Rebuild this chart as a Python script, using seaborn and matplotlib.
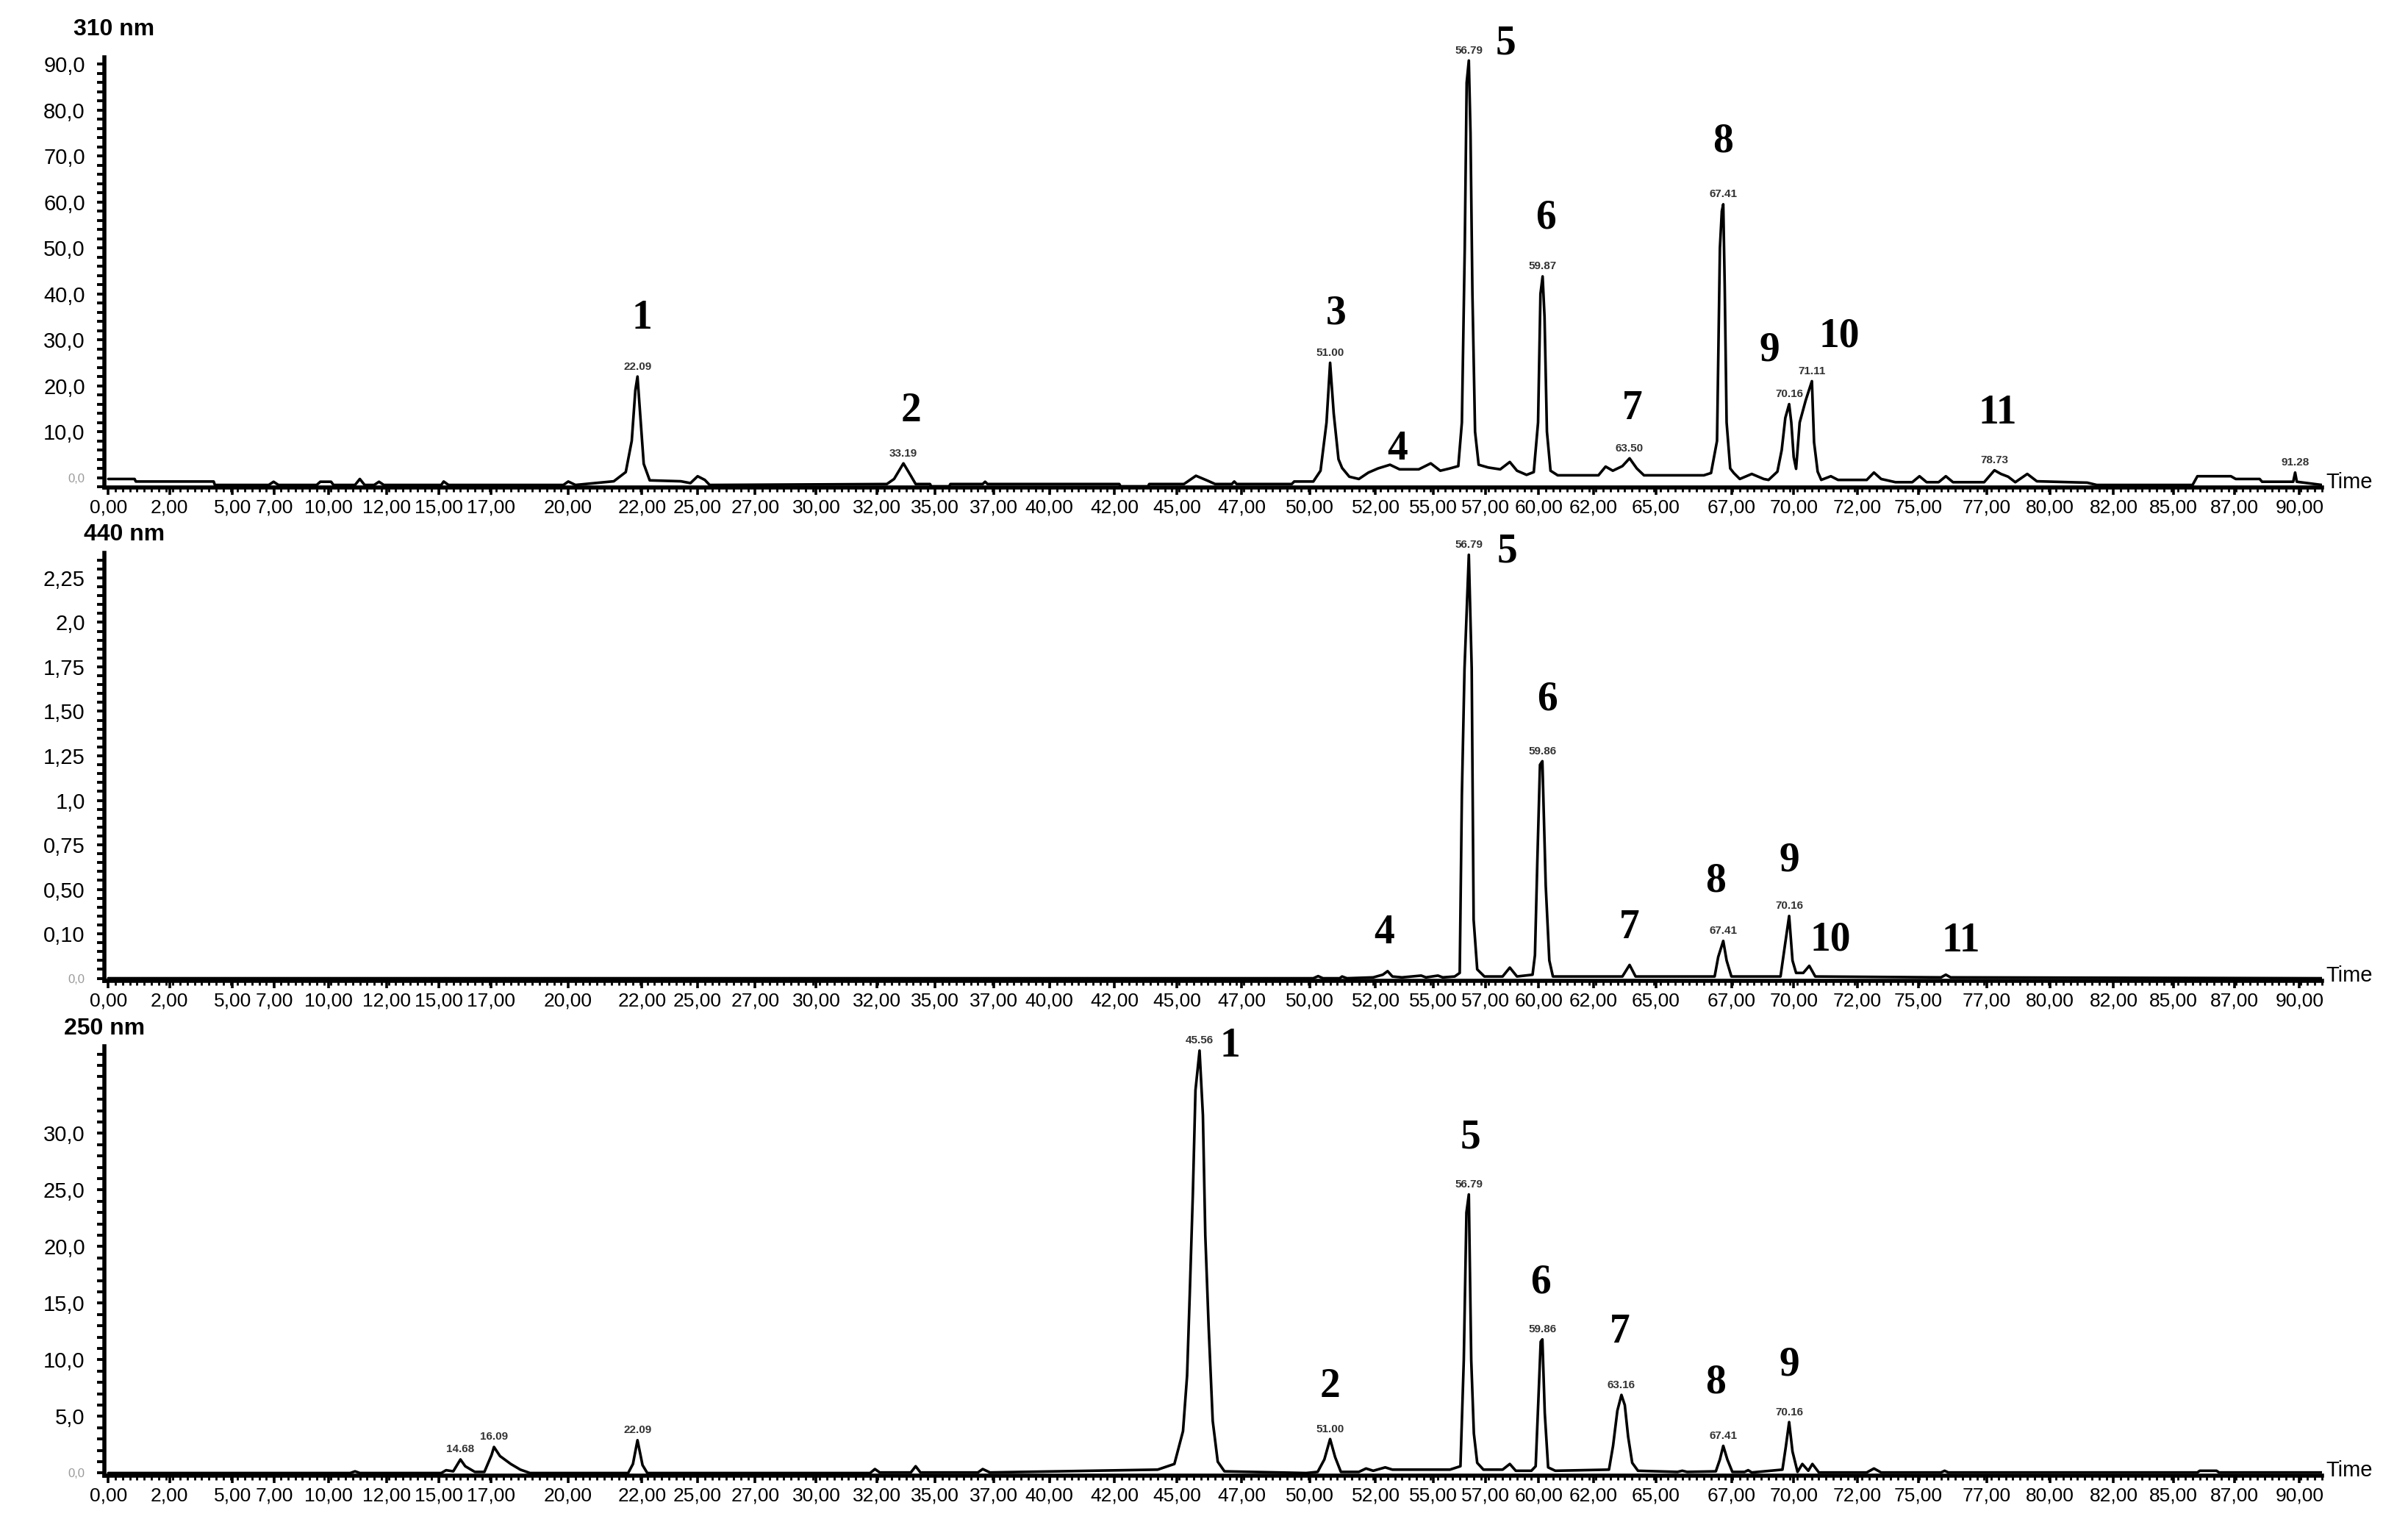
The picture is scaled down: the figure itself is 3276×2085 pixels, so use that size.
import numpy as np
import pandas as pd
import seaborn as sns
import matplotlib.pyplot as plt
from matplotlib.ticker import FixedLocator, MultipleLocator, AutoMinorLocator

sns.set_theme(style='ticks')
plt.rcParams['font.family'] = ['Liberation Sans', 'DejaVu Sans']

# --- time axis labels (minutes, as drawn in the figure) ---
time_ticks = [0.0, 2.56, 5.18, 6.94, 9.2, 11.63, 13.81, 15.99, 19.2, 22.28, 24.6, 27.0,
              29.55, 32.08, 34.5, 36.97, 39.28, 42.0, 44.6, 47.3, 50.15, 52.9, 55.3,
              57.5, 59.7, 62.0, 64.6, 67.75, 70.35, 73.0, 75.55, 78.4, 81.05, 83.7,
              86.2, 88.75, 91.46]
time_labels = ['0,00', '2,00', '5,00', '7,00', '10,00', '12,00', '15,00', '17,00', '20,00',
               '22,00', '25,00', '27,00', '30,00', '32,00', '35,00', '37,00', '40,00',
               '42,00', '45,00', '47,00', '50,00', '52,00', '55,00', '57,00', '60,00',
               '62,00', '65,00', '67,00', '70,00', '72,00', '75,00', '77,00', '80,00',
               '82,00', '85,00', '87,00', '90,00']

# --- 310 nm trace ---
t_310 = [0.0, 1.1, 1.15, 4.4, 4.45, 6.7, 6.9, 7.1, 8.7, 8.85, 9.3, 9.4, 10.3, 10.5, 10.7,
         11.1, 11.3, 11.5, 13.9, 14.0, 14.2, 19.0, 19.2, 19.5, 21.1, 21.6, 21.85, 22.0,
         22.09, 22.2, 22.35, 22.6, 23.9, 24.3, 24.6, 24.9, 25.1, 32.5, 32.8, 33.19, 33.5,
         33.7, 34.3, 34.35, 35.1, 35.15, 36.5, 36.6, 36.7, 42.2, 42.25, 43.4, 43.45, 44.9,
         45.4, 45.9, 46.2, 46.9, 47.0, 47.1, 49.4, 49.5, 50.3, 50.6, 50.85, 51.0, 51.15,
         51.35, 51.5, 51.8, 52.2, 52.6, 53.0, 53.5, 53.9, 54.7, 55.2, 55.6, 56.0, 56.35,
         56.5, 56.62, 56.7, 56.79, 56.86, 56.94, 57.05, 57.2, 57.6, 58.1, 58.5, 58.8, 59.2,
         59.5, 59.68, 59.78, 59.87, 59.95, 60.05, 60.2, 60.5, 62.2, 62.5, 62.8, 63.2, 63.5,
         63.8, 64.1, 66.6, 66.9, 67.15, 67.27, 67.35, 67.41, 67.47, 67.55, 67.7, 67.85,
         68.1, 68.6, 69.1, 69.3, 69.67, 69.85, 70.0, 70.16, 70.25, 70.35, 70.45, 70.6,
         70.85, 71.11, 71.2, 71.35, 71.5, 71.9, 72.2, 73.4, 73.7, 74.0, 74.6, 75.3, 75.6,
         75.9, 76.4, 76.7, 77.0, 78.3, 78.73, 79.0, 79.3, 79.6, 80.1, 80.5, 82.6, 83.0,
         87.0, 87.2, 88.6, 88.8, 89.8, 89.9, 91.2, 91.28, 91.35, 92.4]
a_310 = [-0.3, -0.3, -0.85, -0.85, -1.6, -1.6, -0.9, -1.6, -1.6, -0.9, -0.9, -1.6, -1.6,
         -0.3, -1.6, -1.6, -0.9, -1.6, -1.6, -0.85, -1.6, -1.6, -0.85, -1.6, -0.8, 1.2,
         8.0, 19.0, 22.0, 14.0, 3.0, -0.6, -0.8, -1.2, 0.3, -0.5, -1.6, -1.4, -0.3, 3.1,
         0.4, -1.4, -1.4, -1.9, -1.9, -1.4, -1.4, -0.9, -1.4, -1.4, -1.9, -1.9, -1.4,
         -1.4, 0.4, -0.7, -1.4, -1.4, -0.85, -1.4, -1.4, -0.85, -0.85, 1.5, 12.0, 25.0,
         14.0, 4.0, 2.1, 0.2, -0.3, 1.1, 2.0, 2.8, 1.8, 1.8, 3.1, 1.5, 2.0, 2.5, 12.0,
         50.0, 86.0, 90.8, 75.0, 40.0, 10.0, 2.8, 2.2, 1.8, 3.4, 1.5, 0.6, 1.2, 12.0,
         40.0, 43.8, 35.0, 10.0, 1.5, 0.5, 0.5, 2.4, 1.5, 2.5, 4.2, 2.0, 0.5, 0.5, 1.0,
         8.0, 50.0, 58.0, 59.5, 42.0, 12.0, 2.0, 1.0, -0.3, 0.8, -0.3, -0.5, 1.3, 6.0,
         13.0, 16.0, 12.0, 4.5, 1.9, 12.0, 16.8, 21.0, 7.7, 1.3, -0.5, 0.3, -0.5, -0.5,
         1.1, -0.3, -1.0, -1.0, 0.3, -1.0, -1.0, 0.3, -1.0, -1.0, 1.6, 0.8, 0.2, -1.0,
         0.8, -0.8, -1.1, -1.6, -1.6, 0.3, 0.3, -0.3, -0.3, -0.9, -0.9, 1.1, -0.9, -1.6]
rt_310 = [22.09, 33.19, 51.00, 56.79, 59.87, 63.50, 67.41, 70.16, 71.11, 78.73, 91.28]
rt_310_txt = ['22.09', '33.19', '51.00', '56.79', '59.87', '63.50', '67.41', '70.16',
              '71.11', '78.73', '91.28']
peak_310_ids = ['1', '2', '3', '4', '5', '6', '7', '8', '9', '10', '11']
peak_310_t = [22.09, 33.19, 51.00, 53.5, 56.79, 59.87, 63.50, 67.41, 70.16, 71.11, 78.73]

# --- 440 nm trace ---
t_440 = [0.0, 50.3, 50.5, 50.7, 51.4, 51.5, 51.7, 52.8, 53.2, 53.4, 53.6, 54.0, 54.8,
         55.0, 55.5, 55.7, 56.2, 56.41, 56.5, 56.61, 56.79, 56.91, 56.99, 57.14, 57.44,
         58.2, 58.5, 58.8, 59.45, 59.55, 59.65, 59.76, 59.86, 60.0, 60.15, 60.3, 63.2,
         63.5, 63.75, 67.05, 67.2, 67.41, 67.55, 67.75, 69.8, 70.0, 70.16, 70.3, 70.45,
         70.75, 71.0, 71.25, 76.5, 76.7, 76.9, 92.4]
a_440 = [0.0, 0.0, 0.012, 0.0, 0.0, 0.01, 0.0, 0.005, 0.02, 0.04, 0.01, 0.005, 0.015,
         0.005, 0.015, 0.005, 0.01, 0.03, 1.03, 1.74, 2.38, 1.74, 0.33, 0.05, 0.01, 0.01,
         0.06, 0.01, 0.02, 0.13, 0.66, 1.2, 1.22, 0.52, 0.1, 0.01, 0.01, 0.075, 0.01, 0.01,
         0.12, 0.21, 0.1, 0.01, 0.01, 0.2, 0.35, 0.1, 0.03, 0.03, 0.07, 0.01, 0.005, 0.02,
         0.005, 0.0]
rt_440 = [56.79, 59.86, 67.41, 70.16]
rt_440_txt = ['56.79', '59.86', '67.41', '70.16']
peak_440_ids = ['4', '5', '6', '7', '8', '9', '10', '11']
peak_440_t = [53.4, 56.79, 59.86, 63.5, 67.41, 70.16, 71.0, 76.7]

# --- 250 nm trace ---
t_250 = [0.0, 10.1, 10.3, 10.5, 13.9, 14.1, 14.4, 14.7, 14.9, 15.3, 15.7, 16.0, 16.1,
         16.35, 16.8, 17.2, 17.6, 21.7, 21.9, 22.09, 22.3, 22.5, 31.8, 32.0, 32.2, 33.5,
         33.7, 33.9, 36.3, 36.5, 36.8, 43.8, 44.5, 44.86, 45.03, 45.14, 45.27, 45.38,
         45.55, 45.69, 45.79, 45.93, 46.1, 46.31, 46.59, 50.0, 50.48, 50.76, 51.0, 51.21,
         51.45, 52.2, 52.5, 52.8, 53.3, 53.6, 56.0, 56.44, 56.58, 56.69, 56.79, 56.89,
         57.0, 57.14, 57.4, 58.2, 58.5, 58.75, 59.4, 59.58, 59.69, 59.79, 59.86, 59.96,
         60.1, 60.4, 62.64, 62.81, 62.99, 63.16, 63.3, 63.44, 63.61, 63.85, 65.5, 65.7,
         65.9, 67.1, 67.27, 67.41, 67.58, 67.79, 68.3, 68.45, 68.6, 69.88, 70.02, 70.16,
         70.3, 70.51, 70.71, 70.96, 71.13, 71.4, 73.4, 73.7, 74.0, 76.5, 76.65, 76.8,
         87.2, 87.3, 88.0, 88.1, 92.4]
a_250 = [0.0, 0.0, 0.15, 0.0, 0.0, 0.25, 0.15, 1.2, 0.6, 0.1, 0.1, 1.6, 2.3, 1.5, 0.8,
         0.3, 0.0, 0.0, 0.8, 2.9, 0.7, 0.0, 0.0, 0.35, 0.05, 0.05, 0.6, 0.05, 0.05, 0.35,
         0.05, 0.3, 0.8, 3.7, 8.6, 15.7, 24.6, 33.8, 37.3, 31.6, 21.0, 12.9, 4.6, 1.0,
         0.15, 0.0, 0.1, 1.2, 3.0, 1.4, 0.1, 0.1, 0.4, 0.2, 0.5, 0.3, 0.3, 0.6, 10.0,
         23.0, 24.6, 10.0, 3.5, 0.9, 0.3, 0.3, 0.8, 0.2, 0.2, 0.6, 6.3, 11.6, 11.8, 5.3,
         0.5, 0.2, 0.3, 2.4, 5.5, 6.9, 6.0, 3.2, 0.9, 0.2, 0.1, 0.2, 0.1, 0.15, 1.2, 2.4,
         1.2, 0.1, 0.1, 0.25, 0.05, 0.3, 2.3, 4.5, 1.9, 0.1, 0.8, 0.2, 0.8, 0.05, 0.05,
         0.4, 0.05, 0.05, 0.2, 0.05, 0.05, 0.2, 0.2, 0.05, 0.05]
rt_250 = [14.7, 16.1, 22.09, 45.55, 51.00, 56.79, 59.86, 63.16, 67.41, 70.16]
rt_250_txt = ['14.68', '16.09', '22.09', '45.56', '51.00', '56.79', '59.86', '63.16',
              '67.41', '70.16']
peak_250_ids = ['1', '2', '5', '6', '7', '8', '9']
peak_250_t = [45.55, 51.00, 56.79, 59.86, 63.16, 67.41, 70.16]

# label offsets (in pixels of the 1568-wide reference), layout only
PX = 0.752
off_310 = [(3, 38), (5, 34), (4, 32), (5, 10), (24, 11), (2, 38), (2, 32), (0, 41),
           (-13, 35), (18, 29), (2, 37)]
off_440 = [(-2, 25), (25, 2), (3, 40), (0, 24), (-5, 39), (0, 36), (14, 17), (10, 22)]
off_250 = [(20, 3), (0, 34), (1, 37), (-1, 37), (-1, 41), (-5, 41), (0, 37)]

fig = plt.figure(figsize=(16.38, 10.425), dpi=200)
left, width = 0.04337, 0.9209
ax_top = fig.add_axes([left, 0.68186, width, 0.28076])
ax_mid = fig.add_axes([left, 0.36012, width, 0.27916])
ax_bot = fig.add_axes([left, 0.03727, width, 0.28036])

panels = [
    (ax_top, t_310, a_310, rt_310, rt_310_txt, peak_310_ids, peak_310_t, off_310,
     '310 nm', (-2.2, 91.5), [0, 10, 20, 30, 40, 50, 60, 70, 80, 90],
     ['0,0', '10,0', '20,0', '30,0', '40,0', '50,0', '60,0', '70,0', '80,0', '90,0'],
     (-15, 13.5)),
    (ax_mid, t_440, a_440, rt_440, rt_440_txt, peak_440_ids, peak_440_t, off_440,
     '440 nm', (-0.015, 2.39), [0, 0.25, 0.5, 0.75, 1.0, 1.25, 1.5, 1.75, 2.0, 2.25],
     ['0,0', '0,10', '0,50', '0,75', '1,0', '1,25', '1,50', '1,75', '2,0', '2,25'],
     (-10, 9)),
    (ax_bot, t_250, a_250, rt_250, rt_250_txt, peak_250_ids, peak_250_t, off_250,
     '250 nm', (-0.25, 37.7), [0, 5, 10, 15, 20, 25, 30],
     ['0,0', '5,0', '10,0', '15,0', '20,0', '25,0', '30,0'],
     (-20, 8.5)),
]

for ax, t, a, rt, rt_txt, ids, pt, offs, wl, ylim, yt, ytl, wl_off in panels:
    df = pd.DataFrame({'time': t, 'abs': a})
    sns.lineplot(data=df, x='time', y='abs', ax=ax, color='black', lw=1.3,
                 estimator=None, sort=False)
    ax.set_xlim(-0.16, 92.4)
    ax.set_ylim(*ylim)
    ax.set_xlabel('')
    ax.set_ylabel('')
    sns.despine(ax=ax)
    for s in ['left', 'bottom']:
        ax.spines[s].set_linewidth(2.0)
        ax.spines[s].set_color('black')

    ax.xaxis.set_major_locator(FixedLocator(time_ticks))
    ax.set_xticklabels(time_labels)
    ax.xaxis.set_minor_locator(MultipleLocator(0.3))
    ax.yaxis.set_major_locator(FixedLocator(yt))
    ax.set_yticklabels(ytl)
    ax.yaxis.set_minor_locator(AutoMinorLocator(5))
    ax.tick_params(axis='x', which='major', length=3.5, width=1.3, pad=2,
                   labelsize=9.5, colors='black')
    ax.tick_params(axis='x', which='minor', length=2, width=1.0, color='black')
    ax.tick_params(axis='y', which='major', length=3.5, width=1.4, pad=6,
                   labelsize=10.5, colors='black')
    ax.tick_params(axis='y', which='minor', length=3.5, width=1.4, color='black')
    zero_lab = ax.get_yticklabels()[0]
    zero_lab.set_fontsize(6)
    zero_lab.set_color('#9a9a9a')

    # retention times over the peaks
    for x, txt in zip(rt, rt_txt):
        y = np.interp(x, t, a)
        ax.annotate(txt, xy=(x, y), xytext=(0, 6.5 * PX), textcoords='offset points',
                    ha='center', va='center', fontsize=5.5, weight='bold',
                    color='#333333', annotation_clip=False)
    # peak numbers
    for x, txt, (dx, dy) in zip(pt, ids, offs):
        y = np.interp(x, t, a)
        ax.annotate(txt, xy=(x, y), xytext=(dx * PX, dy * PX), textcoords='offset points',
                    ha='center', va='center', fontsize=20, weight='bold',
                    family=['Liberation Serif', 'DejaVu Serif'], color='black',
                    annotation_clip=False)

    ax.annotate(wl, xy=(0, 1), xycoords='axes fraction', xytext=wl_off,
                textcoords='offset points', ha='left', va='center', fontsize=11.5,
                weight='bold', color='black')
    ax.annotate('Time', xy=(1, 0), xycoords='axes fraction', xytext=(2, 2.5),
                textcoords='offset points', ha='left', va='center', fontsize=10.5,
                color='black')

fig.savefig('out.png', dpi=200, facecolor='white')
